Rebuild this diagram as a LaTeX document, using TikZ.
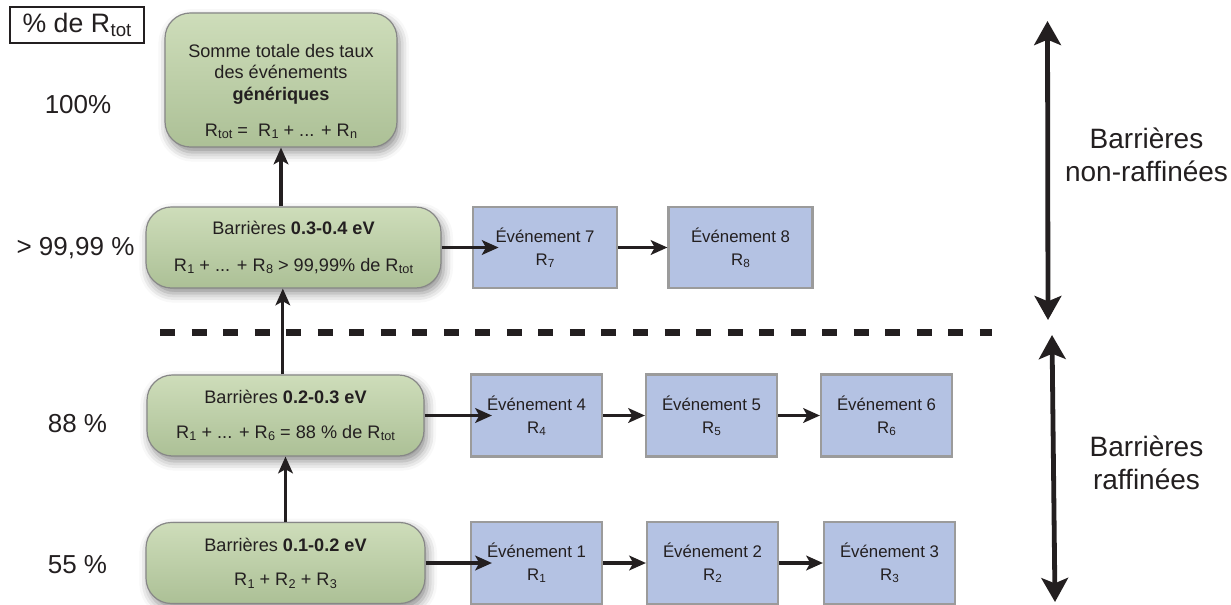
\documentclass[tikz,border=0pt]{standalone}
\usepackage{fontspec}
\usepackage{graphicx}
\setmainfont{Liberation Sans}
\usetikzlibrary{arrows.meta,shadows.blur}
\definecolor{gtop}{RGB}{206,221,186}
\definecolor{gbot}{RGB}{172,192,150}
\definecolor{gbord}{RGB}{135,135,135}
\definecolor{bfill}{RGB}{180,194,227}
\definecolor{bbord}{RGB}{155,155,155}
\definecolor{ink}{RGB}{35,31,32}
\newcommand{\sbs}[1]{\kern0.02em\raisebox{-0.25ex}{\scalebox{0.7}{#1}}}
\tikzset{
  greenbox/.style={draw=gbord, line width=0.9pt, rounded corners=19pt, top color=gtop, bottom color=gbot,
    align=center, text=ink, font=\fontsize{13.6}{16}\selectfont, inner sep=0pt,
    blur shadow={shadow xshift=2pt, shadow yshift=-4pt, shadow blur radius=7pt, shadow opacity=45}},
  evbox/.style={draw=bbord, line width=1.6pt, fill=bfill, align=center, text=ink,
    font=\fontsize{12.6}{17.25}\selectfont, inner sep=0pt},
  arr/.style={draw=ink, line width=2.3pt, -{Stealth[length=12.5pt,width=11pt,inset=3pt]}},
  darr/.style={draw=ink, line width=3.6pt, {Stealth[length=18pt,width=20pt,inset=4pt]}-{Stealth[length=18pt,width=20pt,inset=4pt]}},
  pct/.style={font=\fontsize{19.5}{23}\selectfont, text=ink, inner sep=0pt},
  side/.style={font=\fontsize{21}{24.75}\selectfont, text=ink, align=center, inner sep=0pt},
}
\begin{document}
\begin{tikzpicture}[x=0.75pt,y=-0.75pt]
\useasboundingbox (0,0) rectangle (1231,604);

% header box and percentages
\node[draw=ink, line width=1pt, minimum width=100.5pt, minimum height=27pt, inner sep=0pt,
      font=\fontsize{20}{23}\selectfont, text=ink] (rtot) at (77,25) {\% de R\sbs{tot}};
\node[pct] (p100) at (78,105) {100\%};
\node[pct] (p99) at (75.5,248) {> 99,99 \%};
\node[pct] (p88) at (77.5,424) {88 \%};
\node[pct] (p55) at (77.5,565) {55 \%};

% dashed separator
\draw[ink, line width=5.25pt, dash pattern=on 11.25pt off 12.4pt] (160,332) -- (992,332);

% green boxes
\node[greenbox, minimum width=174pt, minimum height=100.5pt] (b1) at (281,80)
  {\rule{0pt}{27pt}Somme totale des taux\\des événements\\\textbf{génériques}\\[11pt]R\sbs{tot} =\ \ R\sbs{1} + ... + R\sbs{n}};
\node[greenbox, minimum width=221.25pt, minimum height=60.75pt] (b2) at (293.5,247.5)
  {Barrières \textbf{0.3-0.4 eV}\\[11.5pt]R\sbs{1} + ... + R\sbs{8} > 99,99\% de R\sbs{tot}};
\node[greenbox, minimum width=207.75pt, minimum height=60.75pt] (b3) at (285.5,415.5)
  {Barrières \textbf{0.2-0.3 eV}\\[10pt]R\sbs{1} + ... + R\sbs{6} = 88 \% de R\sbs{tot}};
\node[greenbox, minimum width=209.25pt, minimum height=60.75pt] (b4) at (285.5,563)
  {Barrières \textbf{0.1-0.2 eV}\\[10pt]R\sbs{1} + R\sbs{2} + R\sbs{3}};

% event boxes
\node[evbox, minimum width=108pt, minimum height=60.75pt] (e7) at (545,247.5) {Événement 7\\R\sbs{7}};
\node[evbox, minimum width=108pt, minimum height=60.75pt] (e8) at (740.5,247.5) {Événement 8\\R\sbs{8}};
\node[evbox, minimum width=98.25pt, minimum height=61.5pt] (e4) at (536.5,415.5) {Événement 4\\R\sbs{4}};
\node[evbox, minimum width=98.25pt, minimum height=61.5pt] (e5) at (711.5,415.5) {Événement 5\\R\sbs{5}};
\node[evbox, minimum width=98.25pt, minimum height=61.5pt] (e6) at (886.5,415.5) {Événement 6\\R\sbs{6}};
\node[evbox, minimum width=98.25pt, minimum height=61.5pt] (e1) at (536.5,563) {Événement 1\\R\sbs{1}};
\node[evbox, minimum width=98.25pt, minimum height=61.5pt] (e2) at (712.5,563) {Événement 2\\R\sbs{2}};
\node[evbox, minimum width=98.25pt, minimum height=61.5pt] (e3) at (889.5,563) {Événement 3\\R\sbs{3}};

% vertical arrows
\draw[arr] (b2.north -| b1.south) -- (b1.south);
\draw[arr] ([xshift=-2pt]b3.north) -- ([xshift=-2pt]b3.north |- b2.south);
\draw[arr] (b4.north) -- (b3.south);

% horizontal arrows
\draw[arr] (b2.east) -- ([xshift=20pt]e7.west);
\draw[arr] (e7.east) -- (e8.west);
\draw[arr] (b3.east) -- ([xshift=16.5pt]e4.west);
\draw[arr] (e4.east) -- (e5.west);
\draw[arr] (e5.east) -- (e6.west);
\draw[arr] (b4.east) -- ([xshift=16.5pt]e1.west);
\draw[arr] (e1.east) -- (e2.west);
\draw[arr] (e2.east) -- (e3.west);

% right double arrows and labels
\coordinate (t1) at (1047.5,21);
\coordinate (t2) at (1048,320);
\coordinate (t3) at (1052,335);
\coordinate (t4) at (1055,602);
\draw[darr] (t1) -- (t2);
\draw[darr] (t3) -- (t4);
\node[side] (lnr) at (1146.5,155) {Barrières\\non-raffinées};
\node[side] (lr) at (1146.5,463) {Barrières\\raffinées};
\end{tikzpicture}
\end{document}
